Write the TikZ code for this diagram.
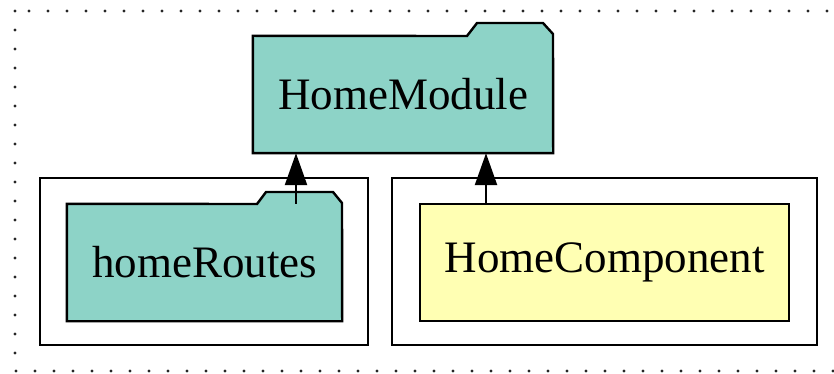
\documentclass[tikz,border=0pt]{standalone}
\usepackage{fontspec}
\setmainfont{Liberation Serif}
\usetikzlibrary{arrows.meta,backgrounds}
\definecolor{teal3}{HTML}{8DD3C7}
\definecolor{yell3}{HTML}{FFFFB3}
\tikzset{
  lbl/.style={inner sep=0pt, font=\fontsize{45}{54}\selectfont},
  folderline/.style={draw=black, line width=2.4pt, fill=teal3, line join=miter},
  compbox/.style={draw=black, line width=2.4pt, fill=yell3, minimum width=369pt, minimum height=117pt, inner sep=0pt, font=\fontsize{45}{54}\selectfont},
  clusterbox/.style={draw=black, line width=2.4pt},
  dep/.style={line width=2.4pt, -{Triangle[length=32pt,width=22pt]}},
}
\begin{document}
\begin{tikzpicture}[x=1pt,y=-1pt]
\useasboundingbox (0,0) rectangle (834,374);
% outer dotted frame
\draw[line width=3.2pt, line cap=round, dash pattern=on 0pt off 19pt, black!85] (15,11) rectangle (840,371);
% clusters
\draw[clusterbox] (40,178) rectangle (368,345);
\draw[clusterbox] (392,178) rectangle (817,345);
% nodes
\node[lbl, minimum width=300pt, minimum height=117pt] (hm) at (403,94.5) {HomeModule};
\node[lbl, minimum width=275pt, minimum height=117pt] (hr) at (204.5,262.5) {homeRoutes};
\node[compbox] (hc) at (604.5,262.5) {HomeComponent};
\begin{scope}[on background layer]
\draw[folderline] (hm.south west) -- (hm.north west) -- (467,36) -- (477,23) -- (543,23) -- (553,34) -- (hm.south east) -- cycle;
\draw[folderline] (hr.south west) -- (hr.north west) -- (257,204) -- (266,192) -- (333,192) -- (342,203) -- (hr.south east) -- cycle;
\end{scope}
% connectors
\draw[dep] ([xshift=91.5pt]hr.north) -- ([xshift=91.5pt]hr.north |- hm.south);
\draw[dep] ([xshift=-118.5pt]hc.north) -- ([xshift=-118.5pt]hc.north |- hm.south);
\end{tikzpicture}
\end{document}
